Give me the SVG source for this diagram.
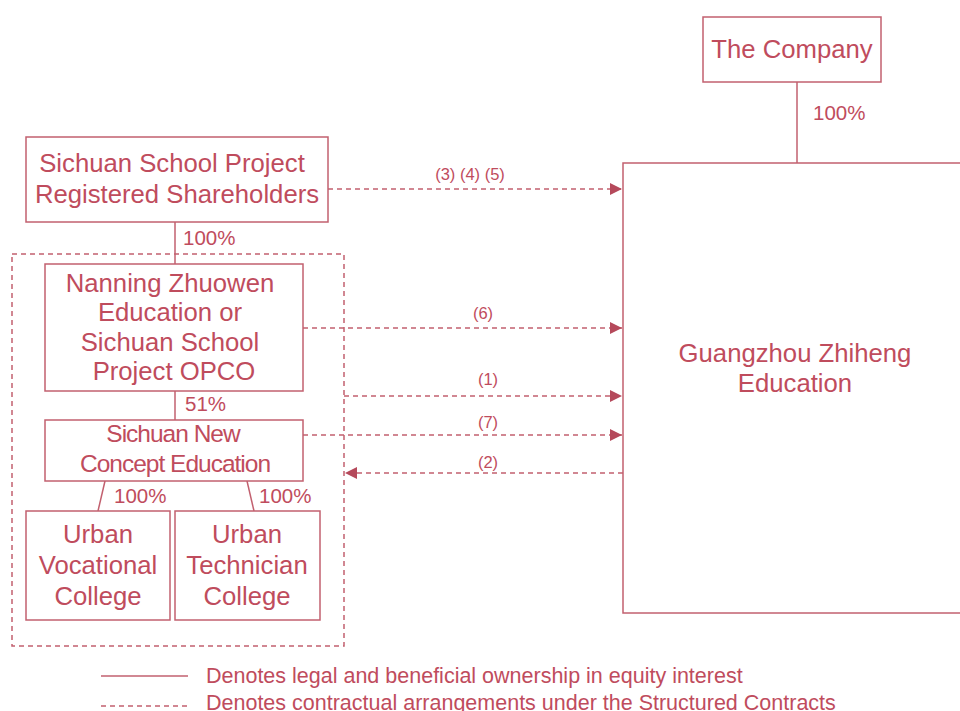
<svg xmlns="http://www.w3.org/2000/svg" width="960" height="711" viewBox="0 0 960 711">
<style>
.box{fill:#ffffff;stroke:#c2606f;stroke-width:1.5}
.own{stroke:#c2606f;stroke-width:1.5;fill:none}
.dash{stroke:#c2606f;stroke-width:1.5;fill:none;stroke-dasharray:5,4}
.t{font-family:"Liberation Sans",Arial,sans-serif;fill:#bf4c5d;text-anchor:middle}
.big{font-size:25.7px}
.pct{font-family:"Liberation Sans",Arial,sans-serif;fill:#bf4c5d;font-size:20.5px}
.lbl{font-family:"Liberation Sans",Arial,sans-serif;fill:#bf4c5d;font-size:16.5px;text-anchor:middle}
.leg{font-family:"Liberation Sans",Arial,sans-serif;fill:#bf4c5d;font-size:21.5px}
</style>
<defs>
<marker id="ah" markerWidth="12" markerHeight="12" refX="12" refY="6" orient="auto" markerUnits="userSpaceOnUse">
<path d="M0,0 L12,6 L0,12 Z" fill="#b5495b"/>
</marker>
</defs>
<rect width="960" height="711" fill="#ffffff"/>
<g id="connectors">
<line class="own" x1="797" y1="82" x2="797" y2="163"/>
<line class="own" x1="175" y1="222" x2="175" y2="264"/>
<line class="own" x1="175" y1="391" x2="175" y2="420"/>
<line class="own" x1="105" y1="481" x2="98" y2="511"/>
<line class="own" x1="247" y1="481" x2="254" y2="511"/>
<line class="dash" x1="328" y1="189" x2="622" y2="189" marker-end="url(#ah)"/>
<line class="dash" x1="303" y1="328" x2="622" y2="328" marker-end="url(#ah)"/>
<line class="dash" x1="344" y1="396" x2="622" y2="396" marker-end="url(#ah)"/>
<line class="dash" x1="303" y1="435" x2="622" y2="435" marker-end="url(#ah)"/>
<line class="dash" x1="623" y1="473" x2="345" y2="473" marker-end="url(#ah)"/>
<text class="lbl" x="470" y="180">(3) (4) (5)</text>
<text class="lbl" x="483" y="319">(6)</text>
<text class="lbl" x="488" y="385">(1)</text>
<text class="lbl" x="488" y="428">(7)</text>
<text class="lbl" x="488" y="468">(2)</text>
<text class="pct" x="813" y="120">100%</text>
<text class="pct" x="183" y="245">100%</text>
<text class="pct" x="185" y="411">51%</text>
<text class="pct" x="114" y="503">100%</text>
<text class="pct" x="259" y="503">100%</text>
</g>
<g id="vie-group">
<rect class="dash" x="12" y="254" width="332" height="392"/>
</g>
<g id="company">
<rect class="box" x="703" y="17" width="178" height="65"/>
<text class="t big" x="792" y="58">The Company</text>
</g>
<g id="guangzhou">
<rect class="box" x="623" y="163" width="350" height="450"/>
<text class="t big" x="795" y="362">Guangzhou Zhiheng</text>
<text class="t big" x="795" y="392">Education</text>
</g>
<g id="shareholders">
<rect class="box" x="26" y="137" width="302" height="85"/>
<text class="t big" x="172" y="172">Sichuan School Project</text>
<text class="t big" x="177" y="203">Registered Shareholders</text>
</g>
<g id="nanning">
<rect class="box" x="45" y="264" width="258" height="127"/>
<text class="t big" x="170" y="292">Nanning Zhuowen</text>
<text class="t big" x="170" y="321">Education or</text>
<text class="t big" x="170" y="351">Sichuan School</text>
<text class="t big" x="174" y="380">Project OPCO</text>
</g>
<g id="newconcept">
<rect class="box" x="45" y="420" width="258" height="61"/>
<text class="t" x="173" y="442" font-size="24.5" letter-spacing="-1">Sichuan New</text>
<text class="t" x="175" y="472" font-size="24.5" letter-spacing="-1">Concept Education</text>
</g>
<g id="vocational">
<rect class="box" x="26" y="511" width="144" height="109"/>
<text class="t big" x="98" y="543">Urban</text>
<text class="t big" x="98" y="574">Vocational</text>
<text class="t big" x="98" y="605">College</text>
</g>
<g id="technician">
<rect class="box" x="175" y="511" width="145" height="109"/>
<text class="t big" x="247" y="543">Urban</text>
<text class="t big" x="247" y="574">Technician</text>
<text class="t big" x="247" y="605">College</text>
</g>
<g id="legend">
<line class="own" x1="101" y1="676" x2="188" y2="676"/>
<text class="leg" x="206" y="683">Denotes legal and beneficial ownership in equity interest</text>
<line class="dash" x1="101" y1="706" x2="188" y2="706"/>
<text class="leg" x="206" y="710">Denotes contractual arrangements under the Structured Contracts</text>
</g>
</svg>
